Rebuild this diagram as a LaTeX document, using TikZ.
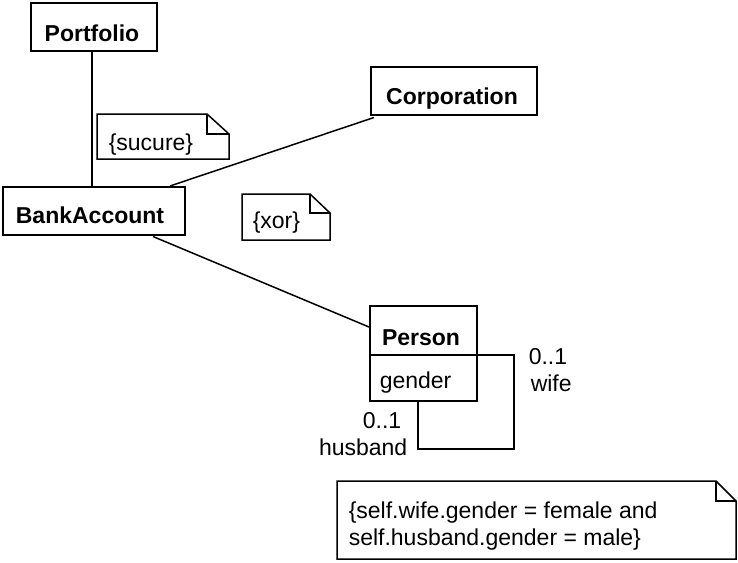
\documentclass[tikz,border=0pt]{standalone}
\usepackage{fontspec}
\setmainfont{Liberation Sans}
\usetikzlibrary{calc}
\begin{document}
\begin{tikzpicture}[x=1pt,y=-1pt,
  line width=1.5pt,
  every node/.style={font=\fontsize{23}{27}\selectfont},
  box/.style={draw,rectangle,anchor=north west,inner sep=0pt},
  lbl/.style={inner sep=0pt,anchor=base},
  bold/.style={lbl,font=\fontsize{23}{27}\selectfont\bfseries},
  notetext/.style={inner sep=0pt,anchor=base west}]
\useasboundingbox (0,0) rectangle (738,562);
% class boxes
\node[box,minimum width=126pt,minimum height=48pt] (portfolio) at (30,2) {};
\node[box,minimum width=182pt,minimum height=48pt] (bank) at (2,186) {};
\node[box,minimum width=166pt,minimum height=48pt] (corp) at (370,66) {};
\node[box,minimum width=107pt,minimum height=95pt] (person) at (369,305) {};
\draw (369,355) -- (476,355);
\coordinate (div) at (476,355);
% class names
\node[bold] (portfolioT) at (92,41) {Portfolio};
\node[bold] (bankT) at (90,223) {BankAccount};
\node[bold] (corpT) at (452,104) {Corporation};
\node[bold] (personT) at (421,345) {Person};
\node[notetext] (gender) at (379,388) {gender};
% associations
\draw (portfolio.south -| 92,0) -- (bank.north -| 92,0);
\draw ($(corp.south west)+(4,2)$) -- ($(bank.north west)+(168,0)$);
\draw ($(bank.south west)+(151,1)$) -- ($(person.north west)+(0,22)$);
% self association
\coordinate (lp1) at (514,355);
\coordinate (lp2) at (514,449);
\coordinate (lp3) at (418,449);
\draw (div) -- (lp1) -- (lp2) -- (lp3) -- (person.south -| lp3);
\node[notetext] (m1) at (528,364) {0..1};
\node[notetext] (r1) at (530,391) {wife};
\node[lbl,anchor=base east] (m2) at (402,428) {0..1};
\node[lbl,anchor=base east] (r2) at (408,455) {husband};
% notes
\draw (97,114) -- (207,114) -- (229,134) -- (229,159) -- (97,159) -- cycle;
\draw (207,114) -- (207,134) -- (229,134);
\node[notetext] (sucure) at (108,150) {\{sucure\}};
\draw (242,194) -- (310,194) -- (330,213) -- (330,240) -- (242,240) -- cycle;
\draw (310,194) -- (310,213) -- (330,213);
\node[notetext] (xor) at (252,228) {\{xor\}};
\draw (337,481) -- (716,481) -- (736,501) -- (736,559) -- (337,559) -- cycle;
\draw (716,481) -- (716,501) -- (736,501);
\node[notetext] (ocl1) at (348,518) {\{self.wife.gender = female and};
\node[notetext] (ocl2) at (348,545) {self.husband.gender = male\}};
\end{tikzpicture}
\end{document}
